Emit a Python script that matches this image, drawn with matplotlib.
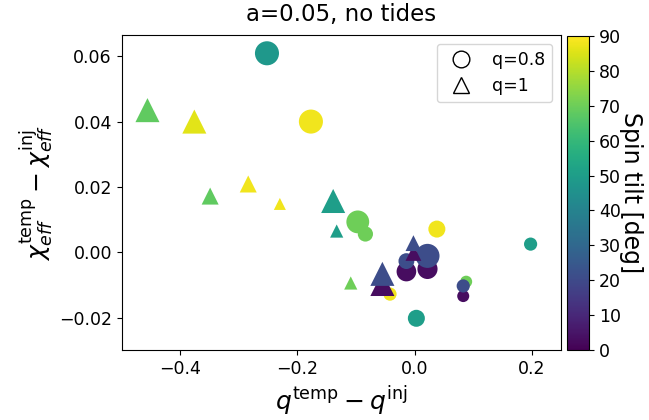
import numpy as np
import matplotlib
matplotlib.use('Agg')
import matplotlib.pyplot as plt
from matplotlib.lines import Line2D

# q_inj = 0.8 (circles)
dq_c = [-0.252, -0.177, -0.097, -0.084, 0.038, 0.198, -0.042, 0.003, 0.088,
        -0.014, 0.022, 0.083, -0.014, 0.022, 0.083]
dchi_c = [0.0609, 0.0400, 0.0093, 0.0056, 0.0071, 0.0025, -0.0128, -0.0202, -0.0090,
          -0.0059, -0.0051, -0.0134, -0.0027, -0.0011, -0.0103]
tilt_c = [48, 88, 70, 70, 88, 50, 88, 50, 70,
          3, 3, 3, 21, 21, 21]
size_c = [300, 300, 270, 120, 150, 90, 90, 150, 75,
          200, 210, 75, 130, 300, 90]

# q_inj = 1 (triangles)
dq_t = [-0.456, -0.376, -0.349, -0.284, -0.230, -0.139, -0.133, -0.109,
        -0.055, -0.002, -0.055, -0.002]
dchi_t = [0.0435, 0.0400, 0.0172, 0.0209, 0.0148, 0.0157, 0.0065, -0.0094,
          -0.0097, -0.0002, -0.0066, 0.0028]
tilt_t = [68, 86, 68, 88, 88, 50, 50, 70,
          3, 3, 21, 21]
size_t = [300, 300, 150, 150, 75, 300, 90, 90,
          300, 130, 300, 130]

fig = plt.figure(figsize=(6.49, 4.2), dpi=100)
ax = fig.add_axes([0.1875, 0.1667, 0.677, 0.75])
cax = fig.add_axes([0.8732, 0.1667, 0.0348, 0.7476])

sc = ax.scatter(dq_c, dchi_c, c=tilt_c, s=size_c, marker='o', cmap='viridis',
                vmin=0, vmax=90, linewidths=0)
ax.scatter(dq_t, dchi_t, c=tilt_t, s=size_t, marker='^', cmap='viridis',
           vmin=0, vmax=90, linewidths=0)

ax.set_xlim(-0.5, 0.25)
ax.set_ylim(-0.0299, 0.0665)
ax.set_xticks([-0.4, -0.2, 0.0, 0.2])
ax.set_yticks([-0.02, 0.0, 0.02, 0.04, 0.06])
ax.tick_params(labelsize=12.5)

ax.set_xlabel(r'$q^{\mathrm{temp}} - q^{\mathrm{inj}}$', fontsize=18, labelpad=5)
ax.set_ylabel(r'$\chi_{eff}^{\mathrm{temp}} - \chi_{eff}^{\mathrm{inj}}$', fontsize=18, labelpad=2)
ax.set_title('a=0.05, no tides', fontsize=16.5, pad=10)

handles = [Line2D([], [], marker='o', ls='none', mfc='w', mec='k', ms=12, mew=1.0),
           Line2D([], [], marker='^', ls='none', mfc='w', mec='k', ms=12, mew=1.0)]
ax.legend(handles, ['q=0.8', 'q=1'], loc='upper right', fontsize=12.5)

cb = fig.colorbar(sc, cax=cax)
cb.set_ticks(np.arange(0, 91, 10))
cb.ax.tick_params(labelsize=12.5)
cb.set_label('Spin tilt [deg]', fontsize=17, rotation=270, labelpad=16)

fig.savefig('out.png', dpi=100)
